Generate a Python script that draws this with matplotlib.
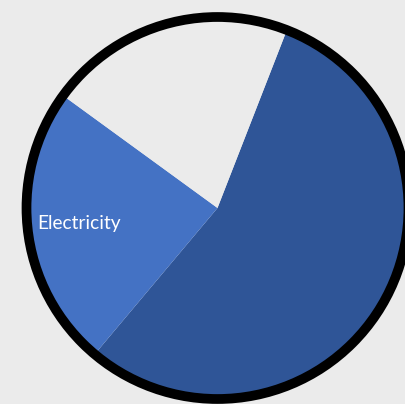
import matplotlib.pyplot as plt
from matplotlib.patches import Circle

# Share of each slice (clockwise from the top-right edge)
categories = ["Other fuels", "Electricity", "Remainder"]
shares = [55.2, 23.9, 20.9]
colors = ["#2f5597", "#4472c4", "#ebebeb"]
shown_labels = ["", "Electricity", ""]

bg = "#ebebeb"

fig = plt.figure(figsize=(4.06, 4.04), dpi=100)
fig.patch.set_facecolor(bg)
ax = fig.add_axes([0, 0, 1, 1])
ax.set_facecolor(bg)

cx, cy, r = 217.5, 196, 191

wedges, texts = ax.pie(shares, colors=colors, labels=shown_labels,
                       startangle=68.7, counterclock=False,
                       center=(cx, cy), radius=r,
                       textprops=dict(color="white", fontsize=13.8,
                                      family="Lato"))

# label sits inside its slice, close to the rim
texts[1].set_position((37, 180))
texts[1].set_ha("left")
texts[1].set_va("center")

# thick black outline around the pie
ax.add_patch(Circle((cx, cy), r, fill=False, edgecolor="black", lw=7.0))

ax.set_xlim(0, 406)
ax.set_ylim(0, 404)
ax.set_aspect("equal")
ax.axis("off")

fig.savefig("out.png", dpi=100, facecolor=bg)
